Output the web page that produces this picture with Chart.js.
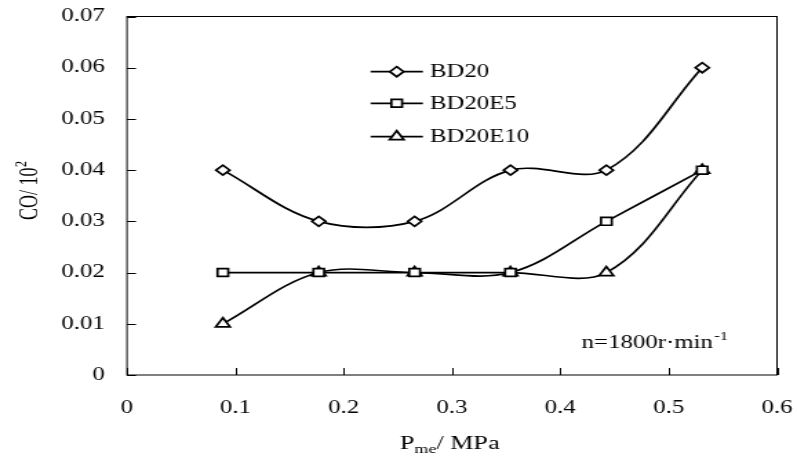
<!DOCTYPE html>
<html><head><meta charset="utf-8">
<script src="https://cdn.jsdelivr.net/npm/chart.js@4/dist/chart.umd.min.js"></script>
<style>html,body{margin:0;padding:0;background:#fff;overflow:hidden}canvas{display:block}</style>
</head><body>
<canvas id="c" width="578" height="460" style="width:797px;height:460px"></canvas>
<script>
// ---- data ----
const pmeValues = [0.0885, 0.177, 0.2655, 0.354, 0.4425, 0.531];
const bd20 = [0.04, 0.03, 0.03, 0.04, 0.04, 0.06];
const bd20e5 = [0.02, 0.02, 0.02, 0.02, 0.03, 0.04];
const bd20e10 = [0.01, 0.02, 0.02, 0.02, 0.02, 0.04];
const seriesNames = ['BD20', 'BD20E5', 'BD20E10'];
const xTickValues = [0, 0.1, 0.2, 0.3, 0.4, 0.5, 0.6];
const xTickLabels = ['0', '0.1', '0.2', '0.3', '0.4', '0.5', '0.6'];
const yTickValues = [0, 0.01, 0.02, 0.03, 0.04, 0.05, 0.06, 0.07];
const yTickLabels = ['0', '0.01', '0.02', '0.03', '0.04', '0.05', '0.06', '0.07'];

const FONT = "'Liberation Serif', 'Times New Roman', serif";
const styles = ['rectRot', 'rect', 'triangle'];
const radii = [5, 5.5, 6];
const seriesValues = [bd20, bd20e5, bd20e10];
// plot-area box (canvas units; the canvas is stretched horizontally like the reference)
const AREA = {left: 92.1, right: 563.5, top: 16.5, bottom: 375};

const datasets = seriesValues.map((vals, i) => ({
  label: seriesNames[i],
  data: pmeValues.map((x, j) => ({x: x, y: vals[j]})),
  borderColor: '#000',
  borderWidth: 1.7,
  backgroundColor: '#fff',
  pointStyle: styles[i],
  pointRadius: radii[i],
  pointBorderWidth: 1.7,
  pointBorderColor: '#000',
  pointBackgroundColor: '#fff',
  tension: 0.35,
  clip: false
}));

function drawMarker(ctx, style, x, y, r) {
  ctx.beginPath();
  if (style === 'rectRot') {
    ctx.moveTo(x, y - r); ctx.lineTo(x + r, y); ctx.lineTo(x, y + r); ctx.lineTo(x - r, y); ctx.closePath();
  } else if (style === 'rect') {
    const s = r * Math.SQRT1_2; ctx.rect(x - s, y - s, 2 * s, 2 * s);
  } else {
    for (let k = 0; k < 3; k++) {
      const a = k * 2 * Math.PI / 3;
      const px = x + Math.sin(a) * r, py = y - Math.cos(a) * r;
      if (k === 0) ctx.moveTo(px, py); else ctx.lineTo(px, py);
    }
    ctx.closePath();
  }
  ctx.fillStyle = '#fff'; ctx.fill();
  ctx.lineWidth = 1.7; ctx.strokeStyle = '#000'; ctx.stroke();
}

const fixArea = {
  id: 'fixArea',
  afterLayout(chart) {
    const xs = chart.scales.x, ys = chart.scales.y;
    xs.left = AREA.left; xs.right = AREA.right; xs.width = AREA.right - AREA.left;
    xs.top = AREA.bottom; xs.bottom = AREA.bottom + 85; xs.height = 85;
    xs.configure();
    ys.top = AREA.top; ys.bottom = AREA.bottom; ys.height = AREA.bottom - AREA.top;
    ys.right = AREA.left; ys.left = 0; ys.width = AREA.left;
    ys.configure();
    chart.chartArea = {left: AREA.left, top: AREA.top, right: AREA.right, bottom: AREA.bottom,
      width: AREA.right - AREA.left, height: AREA.bottom - AREA.top};
  }
};

const decor = {
  id: 'decor',
  afterDraw(chart) {
    const ctx = chart.ctx, a = chart.chartArea;
    const xs = chart.scales.x, ys = chart.scales.y;
    ctx.save();
    // frame
    ctx.strokeStyle = '#000'; ctx.lineWidth = 1;
    ctx.strokeRect(a.left, a.top, a.right - a.left, a.bottom - a.top);
    // inward ticks
    ctx.beginPath();
    yTickValues.forEach(v => { const p = Math.round(ys.getPixelForValue(v)) + 0.5; ctx.moveTo(a.left, p); ctx.lineTo(a.left + 6.5, p); });
    xTickValues.forEach(v => { const p = Math.round(xs.getPixelForValue(v)) + 0.5; ctx.moveTo(p, a.bottom); ctx.lineTo(p, a.bottom - 7); });
    ctx.stroke();
    // legend
    const rows = [71.7, 103.3, 136.7];
    ctx.fillStyle = '#000';
    ctx.font = '18px ' + FONT;
    ctx.textBaseline = 'middle';
    rows.forEach((ry, i) => {
      ctx.beginPath(); ctx.lineWidth = 1.7; ctx.strokeStyle = '#000';
      ctx.moveTo(268.8, ry); ctx.lineTo(306.7, ry); ctx.stroke();
      drawMarker(ctx, styles[i], 287.7, ry, radii[i]);
      ctx.fillStyle = '#000';
      ctx.fillText(seriesNames[i], 311.8, ry + 1);
    });
    ctx.textBaseline = 'alphabetic';
    // annotation
    let x0 = 421.8;
    ctx.font = '18px ' + FONT;
    ctx.fillText('n=1800r\u00b7min', x0, 348);
    x0 += ctx.measureText('n=1800r\u00b7min').width;
    ctx.font = '12px ' + FONT;
    ctx.fillText('-1', x0 + 1, 340);
    // x title
    ctx.font = '19px ' + FONT;
    let tx = 290;
    ctx.fillText('P', tx, 449); tx += ctx.measureText('P').width;
    ctx.font = '13px ' + FONT;
    ctx.fillText('me', tx, 453); tx += ctx.measureText('me').width;
    ctx.font = '19px ' + FONT;
    ctx.fillText('/ MPa', tx, 449);
    // y title
    ctx.save();
    ctx.translate(26.6, 220);
    ctx.rotate(-Math.PI / 2);
    ctx.font = '18px ' + FONT;
    ctx.fillText('CO/ 10', 0, 0);
    const w = ctx.measureText('CO/ 10').width;
    ctx.font = '12px ' + FONT;
    ctx.fillText('2', w + 0.5, -8);
    ctx.restore();
    ctx.restore();
  }
};

new Chart(document.getElementById('c'), {
  type: 'line',
  data: {datasets: datasets},
  options: {
    responsive: false,
    animation: false,
    devicePixelRatio: 1,
    layout: {padding: {left: 0, top: 16.5, right: 14.5, bottom: 0}},
    plugins: {legend: {display: false}, tooltip: {enabled: false}},
    scales: {
      x: {
        type: 'linear', min: 0, max: 0.6,
        afterBuildTicks: s => { s.ticks = xTickValues.map(v => ({value: v})); },
        afterFit: s => { s.height = 85; },
        ticks: {
          callback: (v, i) => xTickLabels[i],
          font: {family: FONT, size: 18}, color: '#000', padding: 22,
          maxRotation: 0, autoSkip: false
        },
        grid: {display: false, drawTicks: false},
        border: {display: false}
      },
      y: {
        type: 'linear', min: 0, max: 0.07,
        afterBuildTicks: s => { s.ticks = yTickValues.map(v => ({value: v})); },
        afterFit: s => { s.width = 92; },
        ticks: {
          callback: (v, i) => yTickLabels[i],
          font: {family: FONT, size: 18}, color: '#000', padding: 16,
          autoSkip: false
        },
        grid: {display: false, drawTicks: false},
        border: {display: false}
      }
    }
  },
  plugins: [fixArea, decor]
});
</script>
</body></html>
